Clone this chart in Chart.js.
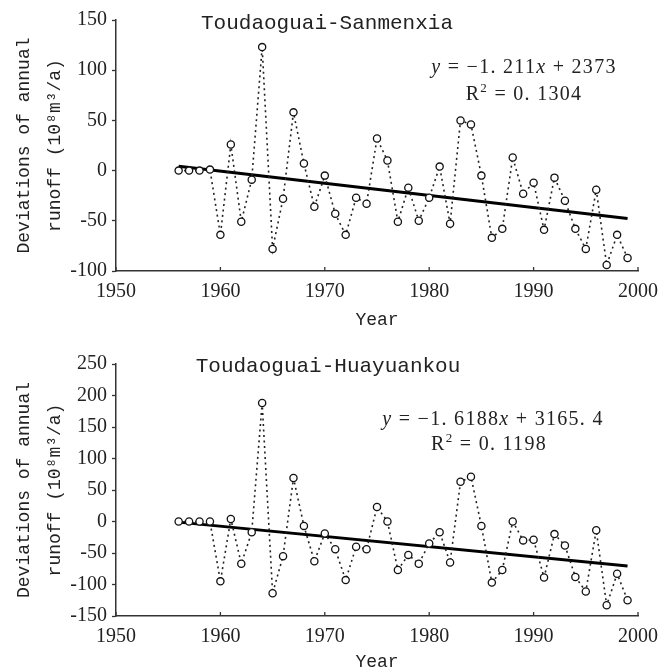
<!DOCTYPE html>
<html>
<head>
<meta charset="utf-8">
<script src="https://cdn.jsdelivr.net/npm/chart.js@4"></script>
<style>
  html, body { margin: 0; padding: 0; background: #fff; }
  #wrap { position: relative; width: 667px; height: 668px; }
  canvas { position: absolute; left: 0; }
</style>
</head>
<body>
<div id="wrap">
  <canvas id="top" width="667" height="334" style="top:0"></canvas>
  <canvas id="bottom" width="667" height="334" style="top:334px"></canvas>
</div>
<script>
// Years of record
const years = [1956, 1957, 1958, 1959, 1960, 1961, 1962, 1963, 1964, 1965,
  1966, 1967, 1968, 1969, 1970, 1971, 1972, 1973, 1974, 1975,
  1976, 1977, 1978, 1979, 1980, 1981, 1982, 1983, 1984, 1985,
  1986, 1987, 1988, 1989, 1990, 1991, 1992, 1993, 1994, 1995,
  1996, 1997, 1998, 1999];

// Runoff deviations (10^8 m3/a)
const sanmenxia = [0, 0, 0, 1, -64, 26, -51, -9, 123, -78,
  -28, 58, 7, -36, -5, -43, -64, -27, -33, 32,
  10, -51, -17, -50, -27, 4, -53, 50, 46, -5,
  -67, -58, 13, -23, -12, -59, -7, -30, -58, -78,
  -19, -94, -64, -87];

const huayuankou = [0, 0, 0, 0, -95, 4, -67, -17, 188, -114,
  -55, 69, -7, -63, -19, -44, -93, -40, -44, 23,
  0, -77, -53, -67, -35, -17, -65, 63, 71, -7,
  -97, -77, 0, -30, -29, -89, -20, -38, -88, -111,
  -14, -133, -83, -125];

// Linear trend end points
const trendYears = [1956, 1999];
const trendSanmenxia = [4.3, -47.8];
const trendHuayuankou = [-1.0, -70.6];

// Tick labels
const xTicks = [1950, 1960, 1970, 1980, 1990, 2000];
const yTicksTop = [-100, -50, 0, 50, 100, 150];
const yTicksBottom = [-150, -100, -50, 0, 50, 100, 150, 200, 250];

const TEXT = "#222";
const AXIS = "#333";

// draw a row of [text, italic, superscript] pieces centred on x
function drawPieces(ctx, pieces, cx, baseline) {
  const fontFor = function (p) {
    const size = p[2] ? 13 : 20;
    return (p[1] ? "italic " : "") + size + "px 'Liberation Serif'";
  };
  ctx.letterSpacing = "1.3px";
  let total = 0;
  pieces.forEach(function (p) {
    ctx.font = fontFor(p);
    total += ctx.measureText(p[0]).width;
  });
  let x = cx - total / 2;
  ctx.textAlign = "left";
  ctx.textBaseline = "alphabetic";
  pieces.forEach(function (p) {
    ctx.font = fontFor(p);
    ctx.fillText(p[0], x, p[2] ? baseline - 8 : baseline);
    x += ctx.measureText(p[0]).width;
  });
  ctx.letterSpacing = "0px";
}

const extras = {
  id: "extras",
  afterDraw(chart, args, o) {
    const ctx = chart.ctx;
    const xs = chart.scales.x;
    const bottom = chart.chartArea.bottom;
    ctx.save();
    // inward ticks on the year axis
    ctx.strokeStyle = AXIS;
    ctx.lineWidth = 1.3;
    xs.ticks.forEach(function (t) {
      const px = xs.getPixelForValue(t.value);
      ctx.beginPath();
      ctx.moveTo(px, bottom);
      ctx.lineTo(px, bottom - 4);
      ctx.stroke();
    });
    ctx.fillStyle = TEXT;
    ctx.font = "21px 'Liberation Mono'";
    ctx.textAlign = "center";
    ctx.textBaseline = "alphabetic";
    ctx.fillText(o.title, o.titleX, o.titleY);
    drawPieces(ctx, o.eq, o.eqX, o.eqY);
    drawPieces(ctx, o.r2, o.r2X, o.r2Y);
    ctx.restore();
  }
};

function plain(v) { return String(v); }

function makeChart(id, values, trend, yTicks, cfg) {
  const ctx = document.getElementById(id).getContext("2d");
  return new Chart(ctx, {
    type: "line",
    data: {
      datasets: [
        {
          data: years.map(function (y, i) { return { x: y, y: values[i] }; }),
          borderColor: TEXT,
          borderWidth: 1.6,
          borderDash: [2, 3.5],
          tension: 0,
          pointRadius: 3.6,
          pointBorderWidth: 1.3,
          pointBorderColor: "#111",
          pointBackgroundColor: "#fff",
          order: 1
        },
        {
          data: trendYears.map(function (y, i) { return { x: y, y: trend[i] }; }),
          borderColor: "#000",
          borderWidth: 3,
          pointRadius: 0,
          order: 2
        }
      ]
    },
    options: {
      responsive: false,
      animation: false,
      devicePixelRatio: 1,
      layout: { padding: { left: 0, right: 21, top: cfg.padTop, bottom: 0 } },
      plugins: {
        legend: { display: false },
        tooltip: { enabled: false },
        extras: cfg.extras
      },
      scales: {
        x: {
          type: "linear",
          min: 1950,
          max: 2000,
          afterBuildTicks: function (s) {
            s.ticks = xTicks.map(function (v) { return { value: v }; });
          },
          ticks: {
            autoSkip: false,
            maxRotation: 0,
            padding: 9,
            color: TEXT,
            font: { family: "Liberation Serif", size: 20 },
            callback: plain
          },
          grid: { drawOnChartArea: false, drawTicks: false },
          border: { display: true, color: AXIS, width: 1.5 },
          title: {
            display: true,
            text: "Year",
            color: TEXT,
            font: { family: "Liberation Mono", size: 18, lineHeight: 1 },
            padding: { top: 0, bottom: cfg.yearPad }
          },
          afterFit: function (s) { s.height = cfg.xHeight; }
        },
        y: {
          min: yTicks[0],
          max: yTicks[yTicks.length - 1],
          afterBuildTicks: function (s) {
            s.ticks = yTicks.map(function (v) { return { value: v }; });
          },
          ticks: {
            padding: 5,
            color: TEXT,
            font: { family: "Liberation Serif", size: 20 },
            callback: plain
          },
          grid: {
            drawOnChartArea: false,
            drawTicks: true,
            tickLength: 4,
            tickWidth: 1.3,
            color: AXIS
          },
          border: { display: true, color: AXIS, width: 1.5 },
          title: {
            display: true,
            text: ["Deviations of annual", "runoff (10\u2078m\u00b3/a)"],
            color: TEXT,
            font: { family: "Liberation Mono", size: 18, lineHeight: 1.7 },
            padding: { top: 9, bottom: 0 }
          },
          afterFit: function (s) { s.width = 116; }
        }
      }
    },
    plugins: [extras]
  });
}

makeChart("top", sanmenxia, trendSanmenxia, yTicksTop, {
  padTop: 20,
  xHeight: 63,
  yearPad: 5,
  extras: {
    title: "Toudaoguai-Sanmenxia",
    titleX: 327, titleY: 29,
    eq: [["y", true], [" = \u22121. 211", false], ["x", true], [" + 2373", false]],
    eqX: 524, eqY: 73,
    r2: [["R", false], ["2", false, true], [" = 0. 1304", false]],
    r2X: 524, r2Y: 100
  }
});

makeChart("bottom", huayuankou, trendHuayuankou, yTicksBottom, {
  padTop: 30,
  xHeight: 52,
  yearPad: -3,
  extras: {
    title: "Toudaoguai-Huayuankou",
    titleX: 328, titleY: 38,
    eq: [["y", true], [" = \u22121. 6188", false], ["x", true], [" + 3165. 4", false]],
    eqX: 493, eqY: 91,
    r2: [["R", false], ["2", false, true], [" = 0. 1198", false]],
    r2X: 489, r2Y: 116
  }
});
</script>
</body>
</html>
